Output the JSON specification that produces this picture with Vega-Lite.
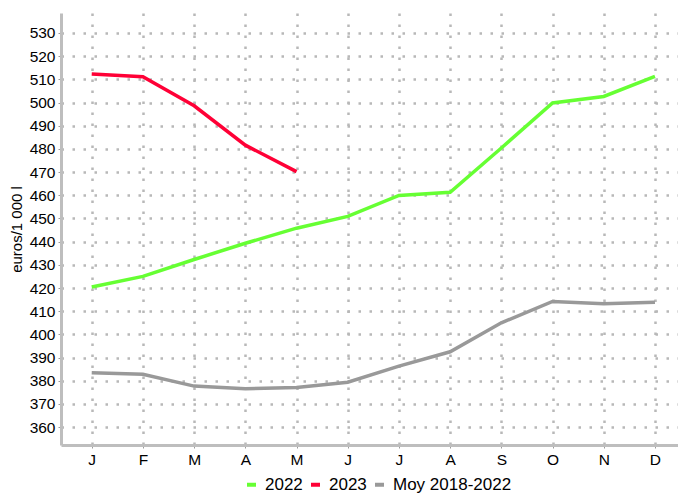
{
  "$schema": "https://vega.github.io/schema/vega-lite/v6.json",
  "width": 617,
  "height": 432,
  "autosize": "none",
  "padding": {"left": 61, "top": 13, "right": 0, "bottom": 52},
  "background": "white",
  "config": {
    "font": "Liberation Sans",
    "view": {"stroke": null},
    "axis": {
      "domainColor": "#bebebe",
      "domainWidth": 3,
      "tickColor": "#9a9a9a",
      "tickSize": 3,
      "labelColor": "#000000",
      "labelFontSize": 15.5,
      "gridColor": "#b8b8b8",
      "gridWidth": 2.5,
      "gridDash": [2.5, 8.5],
      "titleFontWeight": "normal",
      "titleColor": "#000000"
    }
  },
  "data": {
    "values": [
      {"serie": "2022", "m": 1, "v": 420.4},
      {"serie": "2022", "m": 2, "v": 425.0},
      {"serie": "2022", "m": 3, "v": 432.3},
      {"serie": "2022", "m": 4, "v": 439.3},
      {"serie": "2022", "m": 5, "v": 445.8},
      {"serie": "2022", "m": 6, "v": 450.9},
      {"serie": "2022", "m": 7, "v": 459.9},
      {"serie": "2022", "m": 8, "v": 461.3},
      {"serie": "2022", "m": 9, "v": 480.4},
      {"serie": "2022", "m": 10, "v": 499.8},
      {"serie": "2022", "m": 11, "v": 502.6},
      {"serie": "2022", "m": 12, "v": 511.3},
      {"serie": "2023", "m": 1, "v": 512.3},
      {"serie": "2023", "m": 2, "v": 511.1},
      {"serie": "2023", "m": 3, "v": 498.6},
      {"serie": "2023", "m": 4, "v": 481.6},
      {"serie": "2023", "m": 5, "v": 470.2},
      {"serie": "Moy 2018-2022", "m": 1, "v": 383.5},
      {"serie": "Moy 2018-2022", "m": 2, "v": 382.8},
      {"serie": "Moy 2018-2022", "m": 3, "v": 377.7},
      {"serie": "Moy 2018-2022", "m": 4, "v": 376.6},
      {"serie": "Moy 2018-2022", "m": 5, "v": 377.1},
      {"serie": "Moy 2018-2022", "m": 6, "v": 379.4},
      {"serie": "Moy 2018-2022", "m": 7, "v": 386.3},
      {"serie": "Moy 2018-2022", "m": 8, "v": 392.5},
      {"serie": "Moy 2018-2022", "m": 9, "v": 405.0},
      {"serie": "Moy 2018-2022", "m": 10, "v": 414.2},
      {"serie": "Moy 2018-2022", "m": 11, "v": 413.2},
      {"serie": "Moy 2018-2022", "m": 12, "v": 413.9}
    ]
  },
  "mark": {"type": "line", "strokeWidth": 3.5, "clip": true},
  "encoding": {
    "x": {
      "field": "m",
      "type": "quantitative",
      "scale": {"domain": [0.4, 12.45], "nice": false, "zero": false},
      "axis": {
        "title": null,
        "values": [1, 2, 3, 4, 5, 6, 7, 8, 9, 10, 11, 12],
        "labelExpr": "['J','F','M','A','M','J','J','A','S','O','N','D'][datum.value - 1]",
        "labelPadding": 4,
        "grid": true
      }
    },
    "y": {
      "field": "v",
      "type": "quantitative",
      "scale": {"domain": [352.3, 538.6], "nice": false, "zero": false},
      "axis": {
        "title": "euros/1 000 l",
        "titleFontSize": 15,
        "titlePadding": 5,
        "values": [360, 370, 380, 390, 400, 410, 420, 430, 440, 450, 460, 470, 480, 490, 500, 510, 520, 530],
        "labelPadding": 3,
        "grid": true
      }
    },
    "color": {
      "field": "serie",
      "type": "nominal",
      "scale": {
        "domain": ["2022", "2023", "Moy 2018-2022"],
        "range": ["#66ff33", "#ff0036", "#999999"]
      },
      "legend": {
        "title": null,
        "orient": "none",
        "direction": "horizontal",
        "legendX": 182,
        "legendY": 463,
        "symbolType": "stroke",
        "symbolStrokeWidth": 4,
        "symbolSize": 81,
        "labelFontSize": 17,
        "labelColor": "#000000",
        "columnPadding": 0,
        "labelOffset": 5
      }
    }
  }
}
